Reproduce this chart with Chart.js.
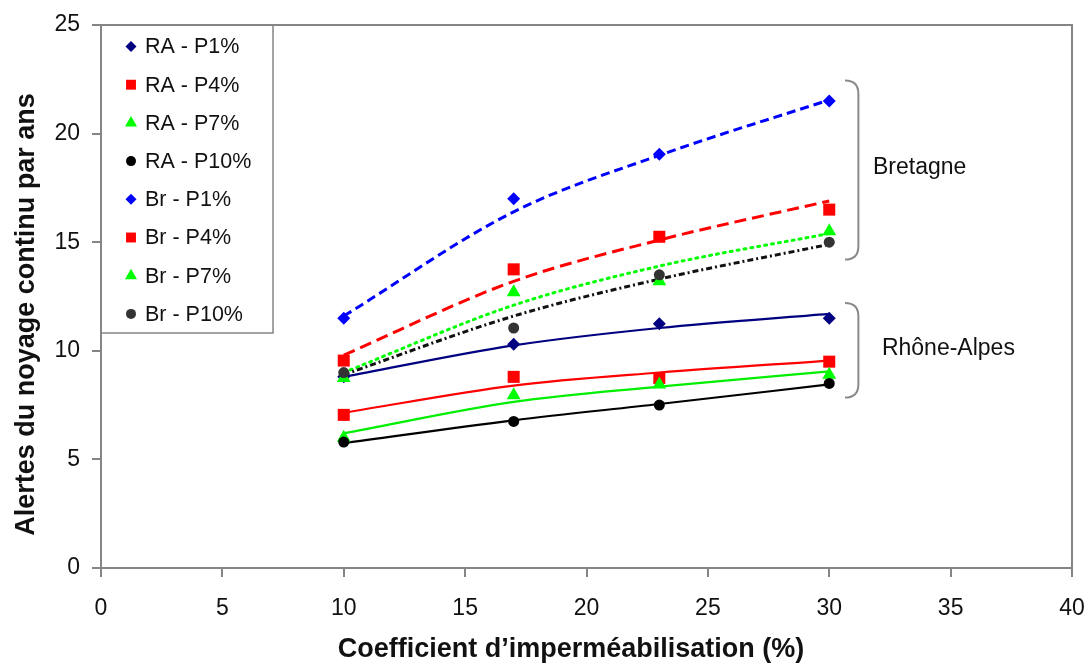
<!DOCTYPE html>
<html>
<head>
<meta charset="utf-8">
<script src="https://cdn.jsdelivr.net/npm/chart.js@4.4.1/dist/chart.umd.min.js"></script>
<style>
html,body{margin:0;padding:0;background:#fff;}
#wrap{width:1089px;height:664px;}
</style>
</head>
<body>
<div id="wrap"><canvas id="c" width="1089" height="664"></canvas></div>
<script>
// ---- data ----
const xValues = [10, 17, 23, 30];
const seriesNames = ["RA - P1%", "RA - P4%", "RA - P7%", "RA - P10%", "Br - P1%", "Br - P4%", "Br - P7%", "Br - P10%"];
const raP1  = [8.8, 10.3, 11.25, 11.5];
const raP4  = [7.05, 8.8, 8.75, 9.5];
const raP7  = [6.0, 7.95, 8.45, 8.9];
const raP10 = [5.8, 6.75, 7.5, 8.5];
const brP1  = [11.5, 17.0, 19.05, 21.5];
const brP4  = [9.55, 13.75, 15.25, 16.5];
const brP7  = [8.75, 12.7, 13.2, 15.5];
const brP10 = [9.0, 11.05, 13.5, 15.0];
// trend-line values read at the same x positions
const raP1Trend  = [8.8, 10.25, 11.05, 11.7];
const raP4Trend  = [7.15, 8.4, 9.0, 9.55];
const raP7Trend  = [6.2, 7.65, 8.35, 9.05];
const raP10Trend = [5.75, 6.8, 7.55, 8.45];
const brP1Trend  = [11.6, 16.4, 19.0, 21.55];
const brP4Trend  = [9.8, 13.2, 15.1, 16.9];
const brP7Trend  = [9.0, 12.1, 13.9, 15.4];
const brP10Trend = [8.9, 11.6, 13.3, 14.9];
const xTicks = [0, 5, 10, 15, 20, 25, 30, 35, 40];
const yTicks = [0, 5, 10, 15, 20, 25];
const xTitle = "Coefficient d\u2019imperméabilisation (%)";
const yTitle = "Alertes du noyage continu par ans";
const groupLabels = ["Bretagne", "Rhône-Alpes"];

// ---- styling ----
const FONT = "'Liberation Sans', Arial, sans-serif";
const pointValues = [raP1, raP4, raP7, raP10, brP1, brP4, brP7, brP10];
const trendValues = [raP1Trend, raP4Trend, raP7Trend, raP10Trend, brP1Trend, brP4Trend, brP7Trend, brP10Trend];
const markerColors = ['#000080', '#ff0000', '#00ff00', '#000000', '#0000ff', '#ff0000', '#00ff00', '#333333'];
const lineColors   = ['#000080', '#ff0000', '#00ee00', '#000000', '#0000ff', '#ff0000', '#00ff00', '#111111'];
const markerStyles = ['rectRot', 'rect', 'triangle', 'circle', 'rectRot', 'rect', 'triangle', 'circle'];
const markerRadius = [6.5, 8.5, 8, 5.5, 6.5, 8.5, 8, 5.5];
const legendRadius = [5.5, 7, 7, 5, 5.5, 7, 7, 5];
const lineDashes   = [[], [], [], [], [9, 5], [12, 6], [2, 5], [6, 3, 2, 3]];
const lineWidths   = [2.2, 2.2, 2.2, 2.2, 3, 3, 3, 3];
const capStyles    = ['butt','butt','butt','butt','butt','butt','round','butt'];

const toXY = arr => arr.map((v, i) => ({x: xValues[i], y: v}));

const datasets = [];
seriesNames.forEach((name, i) => {
  datasets.push({
    label: name,
    data: toXY(pointValues[i]),
    showLine: false,
    pointStyle: markerStyles[i],
    pointRadius: markerRadius[i],
    pointHoverRadius: markerRadius[i],
    pointBackgroundColor: markerColors[i],
    pointBorderColor: markerColors[i],
    pointBorderWidth: 0,
    order: -i
  });
});
seriesNames.forEach((name, i) => {
  datasets.push({
    label: name + ' trend',
    data: toXY(trendValues[i]),
    showLine: true,
    pointRadius: 0,
    borderColor: lineColors[i],
    borderWidth: lineWidths[i],
    borderDash: lineDashes[i],
    borderCapStyle: capStyles[i],
    cubicInterpolationMode: 'monotone',
    fill: false,
    order: 20 - i
  });
});

const GRAY = '#858585';

const decorations = {
  id: 'decorations',
  afterDraw(chart) {
    const ctx = chart.ctx;
    const {left, right, top, bottom} = chart.chartArea;
    const xs = chart.scales.x, ys = chart.scales.y;
    ctx.save();
    // frame top & right
    ctx.strokeStyle = GRAY;
    ctx.lineWidth = 2;
    ctx.beginPath();
    ctx.moveTo(left, top);
    ctx.lineTo(right, top);
    ctx.lineTo(right, bottom);
    ctx.stroke();

    // brackets (data units)
    const brackets = [
      {x0: 30.65, x1: 31.2, yTop: 22.45, yBot: 14.2},
      {x0: 30.65, x1: 31.2, yTop: 12.2, yBot: 7.85}
    ];
    ctx.strokeStyle = '#8a8a8a';
    ctx.lineWidth = 2;
    brackets.forEach(b => {
      const X0 = xs.getPixelForValue(b.x0), X1 = xs.getPixelForValue(b.x1);
      const Y0 = ys.getPixelForValue(b.yTop), Y1 = ys.getPixelForValue(b.yBot);
      const r = X1 - X0;
      ctx.beginPath();
      ctx.moveTo(X0, Y0);
      ctx.quadraticCurveTo(X1, Y0, X1, Y0 + r);
      ctx.lineTo(X1, Y1 - r);
      ctx.quadraticCurveTo(X1, Y1, X0, Y1);
      ctx.stroke();
    });

    // group labels
    ctx.fillStyle = '#111';
    ctx.font = '23px ' + FONT;
    ctx.textAlign = 'left';
    ctx.textBaseline = 'middle';
    ctx.fillText(groupLabels[0], xs.getPixelForValue(31.8), ys.getPixelForValue(18.45));
    ctx.fillText(groupLabels[1], xs.getPixelForValue(32.17), ys.getPixelForValue(10.1));

    // legend box
    const lx0 = left, ly0 = top, lx1 = 273, ly1 = 333;
    ctx.fillStyle = '#fff';
    ctx.fillRect(lx0 + 1, ly0 + 1, lx1 - lx0 - 2, ly1 - ly0 - 2);
    ctx.strokeStyle = GRAY;
    ctx.lineWidth = 1.5;
    ctx.strokeRect(lx0, ly0, lx1 - lx0, ly1 - ly0);
    ctx.font = '21.5px ' + FONT;
    ctx.textBaseline = 'middle';
    seriesNames.forEach((name, i) => {
      const yy = 46.5 + i * 38.2;
      ctx.fillStyle = markerColors[i];
      Chart.helpers.drawPoint(ctx, {pointStyle: markerStyles[i], radius: legendRadius[i], rotation: 0, borderWidth: 0}, 131, yy);
      ctx.fillStyle = '#111';
      ctx.fillText(name, 145, yy + 1);
    });

    // axis titles
    ctx.fillStyle = '#111';
    ctx.font = 'bold 27px ' + FONT;
    ctx.textAlign = 'center';
    ctx.textBaseline = 'middle';
    ctx.fillText(xTitle, 571, 650);
    ctx.save();
    ctx.translate(27, (top + bottom) / 2 + 18);
    ctx.rotate(-Math.PI / 2);
    ctx.fillText(yTitle, 0, 0);
    ctx.restore();
    ctx.restore();
  }
};

new Chart(document.getElementById('c'), {
  type: 'scatter',
  data: {datasets},
  plugins: [decorations],
  options: {
    responsive: false,
    animation: false,
    devicePixelRatio: 1,
    layout: {padding: {left: 0, top: 25, right: 17, bottom: 0}},
    plugins: {legend: {display: false}, tooltip: {enabled: false}, title: {display: false}},
    scales: {
      x: {
        type: 'linear', min: 0, max: 40,
        afterBuildTicks: s => { s.ticks = xTicks.map(v => ({value: v})); },
        afterFit: s => { s.height = 96; s.paddingLeft = 0; s.paddingRight = 0; },
        border: {color: GRAY, width: 2},
        grid: {drawOnChartArea: false, drawTicks: true, tickLength: 9, color: GRAY, lineWidth: 2},
        ticks: {color: '#111', font: {family: FONT, size: 23}, padding: 18, maxRotation: 0}
      },
      y: {
        type: 'linear', min: 0, max: 25,
        afterBuildTicks: s => { s.ticks = yTicks.map(v => ({value: v})); },
        afterFit: s => { s.width = 101; s.paddingTop = 0; s.paddingBottom = 0; },
        border: {color: GRAY, width: 2},
        grid: {drawOnChartArea: false, drawTicks: true, tickLength: 9, color: GRAY, lineWidth: 2},
        ticks: {color: '#111', font: {family: FONT, size: 23}, padding: 12}
      }
    }
  }
});
</script>
</body>
</html>
